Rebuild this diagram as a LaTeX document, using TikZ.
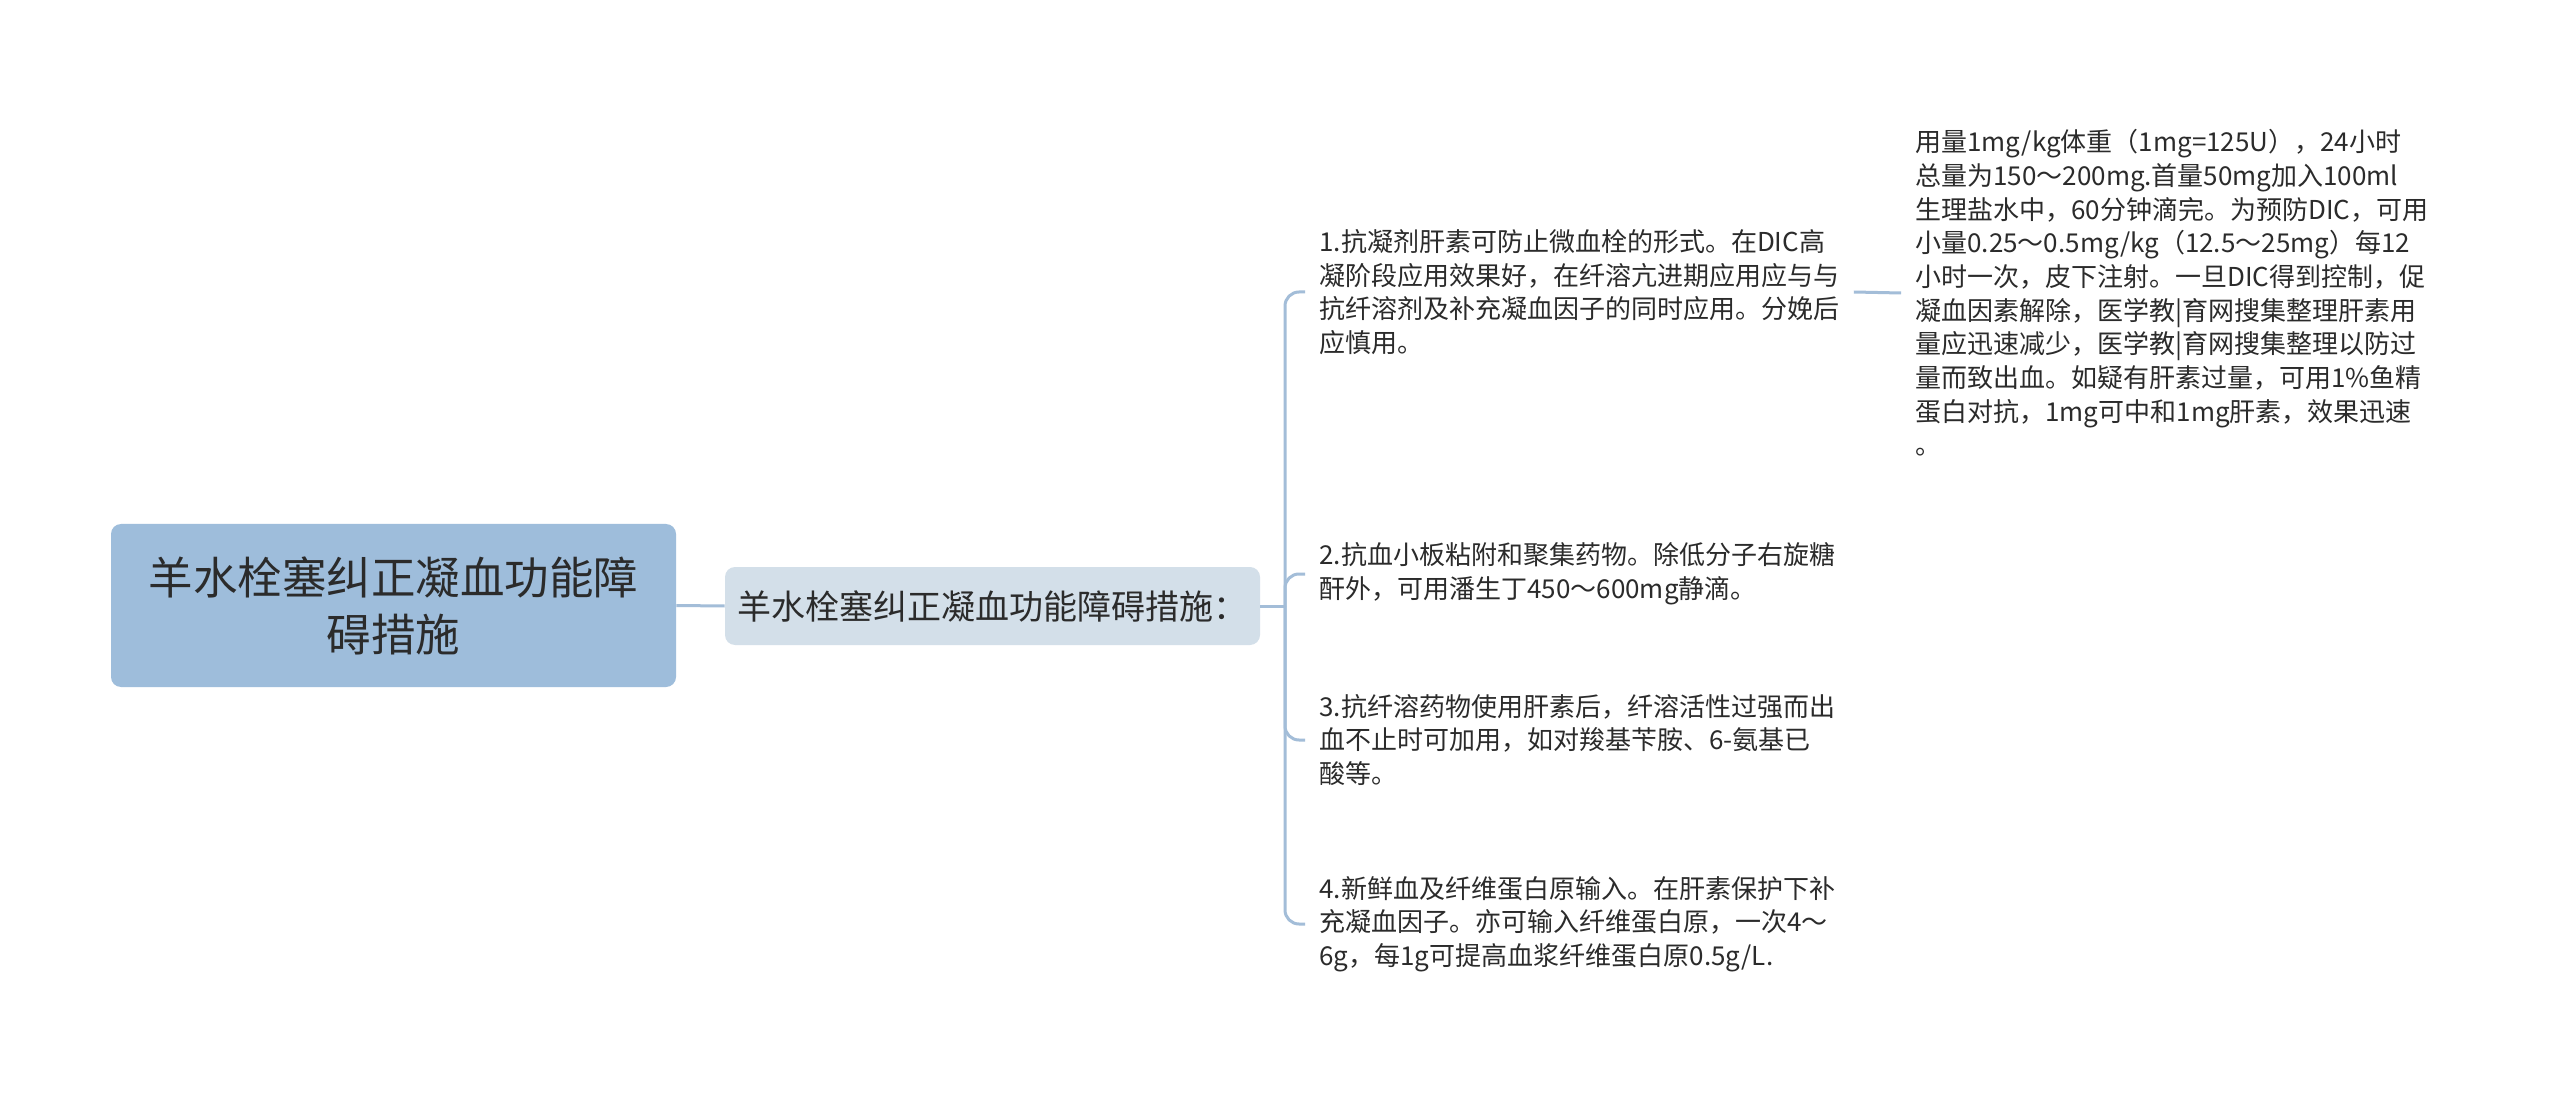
\documentclass[tikz,border=0pt]{standalone}
\usepackage{fontspec}
\setmainfont{Noto Sans CJK SC}
\definecolor{rootfill}{HTML}{9EBDDB}
\definecolor{secfill}{HTML}{D3DFE9}
\definecolor{linec}{HTML}{A3BDD8}
\definecolor{txt}{HTML}{2B2B2B}
\begin{document}
\begin{tikzpicture}[x=0.5pt,y=-0.5pt,
  rootbox/.style={fill=rootfill, rounded corners=5pt, minimum width=282.5pt, minimum height=81.5pt, align=center, text=txt, inner sep=0pt,
    font=\fontsize{22.25pt}{28.5pt}\selectfont},
  secbox/.style={fill=secfill, rounded corners=5pt, minimum width=267.5pt, minimum height=39pt, align=center, text=txt, inner sep=0pt,
    font=\fontsize{17pt}{20pt}\selectfont},
  leaf/.style={anchor=west, align=left, text=txt, inner xsep=7pt, inner ysep=3pt,
    font=\fontsize{13pt}{16.85pt}\selectfont},
  conn/.style={draw=linec, line width=1.5pt}
]
\useasboundingbox (0,0) rectangle (2560,1096);
\fill[white] (0,0) rectangle (2560,1096);

\node[rootbox] (root) at (393.5,605.5) {羊水栓塞纠正凝血功能障\\碍措施};
\node[secbox] (sec) at (992.5,606) {羊水栓塞纠正凝血功能障碍措施：};

\node[leaf] (c1) at (1305,292) {1.抗凝剂肝素可防止微血栓的形式。在DIC高\\凝阶段应用效果好，在纤溶亢进期应用应与与\\抗纤溶剂及补充凝血因子的同时应用。分娩后\\应慎用。};
\node[leaf] (c2) at (1305,574) {2.抗血小板粘附和聚集药物。除低分子右旋糖\\酐外，可用潘生丁450～600mg静滴。};
\node[leaf] (c3) at (1305,740) {3.抗纤溶药物使用肝素后，纤溶活性过强而出\\血不止时可加用，如对羧基苄胺、6-氨基已\\酸等。};
\node[leaf] (c4) at (1305,924) {4.新鲜血及纤维蛋白原输入。在肝素保护下补\\充凝血因子。亦可输入纤维蛋白原，一次4～\\6g，每1g可提高血浆纤维蛋白原0.5g/L.};
\node[leaf] (c5) at (1901,293) {用量1mg/kg体重（1mg=125U），24小时\\总量为150～200mg.首量50mg加入100ml\\生理盐水中，60分钟滴完。为预防DIC，可用\\小量0.25～0.5mg/kg（12.5～25mg）每12\\小时一次，皮下注射。一旦DIC得到控制，促\\凝血因素解除，医学教|育网搜集整理肝素用\\量应迅速减少，医学教|育网搜集整理以防过\\量而致出血。如疑有肝素过量，可用1\%鱼精\\蛋白对抗，1mg可中和1mg肝素，效果迅速\\。};

\coordinate (sp) at (1285,606);
\draw[conn] (root.east) -- (sec.west);
\draw[conn] (sec.east) -- (sp);
\draw[conn, rounded corners=7pt] (sp) |- (c1.west);
\draw[conn, rounded corners=7pt] (sp) |- (c2.west);
\draw[conn, rounded corners=7pt] (sp) |- (c3.west);
\draw[conn, rounded corners=7pt] (sp) |- (c4.west);
\draw[conn] (c1.east) -- (c5.west);
\end{tikzpicture}
\end{document}
